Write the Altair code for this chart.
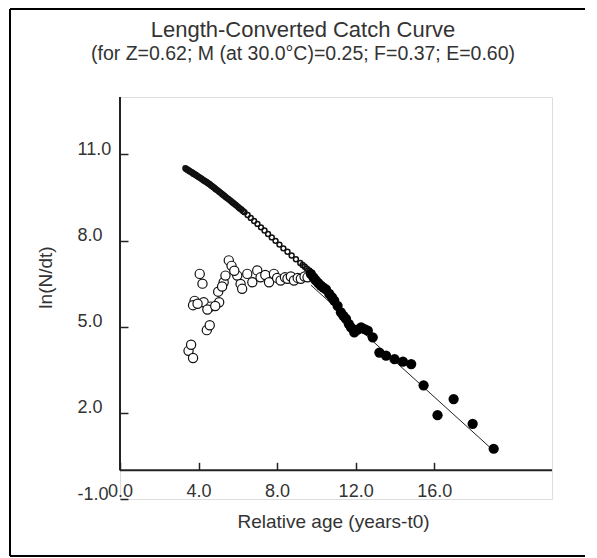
import altair as alt
import pandas as pd

# ---------------- data ----------------
# expected values (small open circles, upper chain)
up_x = [3.33, 3.37, 3.42, 3.46, 3.51, 3.55, 3.60, 3.65, 3.70, 3.75, 3.80, 3.85,
        3.90, 3.95, 4.00, 4.05, 4.11, 4.16, 4.22, 4.27, 4.33, 4.38, 4.44, 4.50,
        4.56, 4.62, 4.68, 4.74, 4.80, 4.86, 4.92, 4.98, 5.05, 5.11, 5.18, 5.24,
        5.31, 5.38, 5.45, 5.52, 5.59, 5.66, 5.73, 5.80, 5.88, 5.95, 6.03, 6.10,
        6.18, 6.26, 6.34, 6.50, 6.66, 6.83, 7.00, 7.18, 7.36, 7.54, 7.73, 7.92,
        8.12, 8.32, 8.53, 8.74, 8.96, 9.18, 9.30, 9.41, 9.52, 9.64]
up_y = [10.52, 10.49, 10.48, 10.45, 10.44, 10.41, 10.40, 10.37, 10.36, 10.32, 10.31, 10.29,
        10.27, 10.24, 10.22, 10.20, 10.17, 10.15, 10.12, 10.09, 10.07, 10.05, 10.02, 9.99,
        9.97, 9.93, 9.90, 9.87, 9.84, 9.80, 9.77, 9.74, 9.70, 9.67, 9.63, 9.60,
        9.56, 9.52, 9.48, 9.45, 9.41, 9.37, 9.33, 9.29, 9.25, 9.21, 9.16, 9.12,
        9.08, 9.03, 8.99, 8.89, 8.79, 8.68, 8.58, 8.46, 8.35, 8.23, 8.11, 7.99,
        7.86, 7.73, 7.61, 7.48, 7.35, 7.22, 7.15, 7.09, 7.02, 6.96]

# observed points not used in the regression (large open circles)
open_x = [3.49, 3.62, 3.72, 4.42, 4.57, 3.80, 3.72, 4.06, 4.20, 4.26, 4.62, 5.05,
          5.00, 5.28, 5.37, 5.54, 5.68, 5.97, 6.14, 6.22, 6.48, 6.74, 6.99, 7.16,
          7.40, 7.59, 7.84, 8.00, 8.18, 8.40, 8.53, 8.70, 8.86, 9.05, 9.21, 9.40, 9.55,
          3.95, 4.45, 4.85, 5.20, 5.82]
open_y = [4.16, 4.37, 3.91, 4.88, 5.05, 5.90, 5.75, 6.84, 6.50, 5.85, 5.70, 5.85,
          6.22, 6.55, 6.78, 7.31, 7.12, 6.78, 6.49, 6.32, 6.84, 6.55, 6.96, 6.72,
          6.80, 6.55, 6.84, 6.70, 6.61, 6.72, 6.67, 6.75, 6.61, 6.70, 6.67, 6.75, 6.72,
          5.80, 5.60, 5.72, 6.40, 6.95]

# points used in the regression (filled circles)
fill_x = [9.72, 9.85, 9.97, 10.10, 10.23, 10.36, 10.49, 10.66, 10.80, 10.91, 11.08,
          11.25, 11.38, 11.51, 11.65, 11.76, 11.93, 12.10, 12.28, 12.45, 12.62, 12.87,
          13.21, 13.55, 13.98, 14.41, 14.83, 15.46, 16.17, 16.99, 17.96, 19.03]
fill_y = [6.84, 6.72, 6.61, 6.52, 6.43, 6.36, 6.30, 6.14, 6.02, 5.91, 5.73,
          5.50, 5.38, 5.27, 5.10, 4.98, 4.80, 4.90, 4.98, 4.92, 4.86, 4.63,
          4.10, 3.99, 3.87, 3.78, 3.70, 2.96, 1.92, 2.48, 1.62, 0.75]

# regression line (slope -Z = -0.62)
line_x = [9.72, 19.03]
line_y = [6.45, 0.68]

x_ticks = [0, 4, 8, 12, 16]
y_ticks = [-1, 2, 5, 8, 11]
X_DOMAIN = [0, 22]
Y_DOMAIN = [-1, 13]

TITLE = "Length-Converted Catch Curve"
SUBTITLE = "(for Z=0.62; M (at 30.0°C)=0.25; F=0.37; E=0.60)"

FONT = "Liberation Sans"
TXT = "#333333"

df_up = pd.DataFrame({"x": up_x, "y": up_y})
df_open = pd.DataFrame({"x": open_x, "y": open_y})
df_fill = pd.DataFrame({"x": fill_x, "y": fill_y})
df_line = pd.DataFrame({"x": line_x, "y": line_y})
df_xaxis = pd.DataFrame({"x": [X_DOMAIN[0]], "x2": [X_DOMAIN[1]], "y": [0]})
df_yaxis = pd.DataFrame({"x": [0], "y": [0], "y2": [Y_DOMAIN[1]]})
df_dummy = pd.DataFrame({"k": [0]})

lab_expr = "datum.value < 0 ? '-' + format(-datum.value, '.1f') : format(datum.value, '.1f')"

xs = alt.Scale(domain=X_DOMAIN, nice=False, zero=False)
ys = alt.Scale(domain=Y_DOMAIN, nice=False, zero=False)

x_axis = alt.Axis(values=x_ticks, labelExpr=lab_expr, domain=False, grid=False,
                  offset=-36.7, tickSize=8, tickWidth=1.5, tickColor="#222222",
                  labelPadding=12, labelFontSize=18, labelFont=FONT, labelColor=TXT,
                  labelFlush=False, labelOverlap=False,
                  title="Relative age (years-t0)", titleFont=FONT, titleFontSize=19,
                  titleFontWeight="normal", titleColor=TXT, titleX=213, titleY=58.7,
                  titleBaseline="middle", titleAlign="center")
y_axis = alt.Axis(values=y_ticks, labelExpr=lab_expr, domain=False, grid=False,
                  offset=-8, tickSize=8, tickWidth=1.5, tickColor="#222222",
                  labelPadding=43, labelAlign="left", labelOffset=-5,
                  labelFontSize=18, labelFont=FONT, labelColor=TXT,
                  labelFlush=False, labelOverlap=False,
                  title="ln(N/dt)", titleFont=FONT, titleFontSize=19,
                  titleFontWeight="normal", titleColor=TXT, titleX=-83, titleY=180,
                  titleBaseline="middle", titleAlign="center", titleAngle=270)

up = alt.Chart(df_up).mark_point(shape="circle", filled=False, size=24,
                                 strokeWidth=1.5, color="#111111", opacity=1).encode(
    x=alt.X("x:Q", scale=xs, axis=x_axis),
    y=alt.Y("y:Q", scale=ys, axis=y_axis),
)

opn = alt.Chart(df_open).mark_circle(size=85, fill="white", stroke="#111111",
                                     strokeWidth=1.2, opacity=1, fillOpacity=1).encode(
    x="x:Q", y="y:Q")

reg = alt.Chart(df_line).mark_line(color="#222222", strokeWidth=1).encode(
    x="x:Q", y="y:Q")

fil = alt.Chart(df_fill).mark_circle(size=105, color="#000000", opacity=1).encode(
    x="x:Q", y="y:Q")

xaxis_line = alt.Chart(df_xaxis).mark_rule(color="#222222", strokeWidth=2).encode(
    x="x:Q", x2="x2:Q", y="y:Q")
yaxis_line = alt.Chart(df_yaxis).mark_rule(color="#222222", strokeWidth=2).encode(
    x="x:Q", y="y:Q", y2="y2:Q")

# chart title and subtitle as text marks (placed above the plot area)
title_main = alt.Chart(df_dummy).mark_text(
    text=TITLE, font=FONT, fontSize=22, color=TXT, align="center", baseline="alphabetic"
).encode(x=alt.value(183), y=alt.value(-60))
title_sub = alt.Chart(df_dummy).mark_text(
    text=SUBTITLE, font=FONT, fontSize=19.5, color=TXT, align="center", baseline="alphabetic"
).encode(x=alt.value(183), y=alt.value(-37))

# outer picture frame (decoration): left, top and bottom sides only
frame_top = alt.Chart(df_dummy).mark_rule(color="black", strokeWidth=2).encode(
    x=alt.value(-110), x2=alt.value(465), y=alt.value(-88))
frame_left = alt.Chart(df_dummy).mark_rule(color="black", strokeWidth=2).encode(
    x=alt.value(-110), y=alt.value(-88), y2=alt.value(459))
frame_bottom = alt.Chart(df_dummy).mark_rule(color="black", strokeWidth=2).encode(
    x=alt.value(-110), x2=alt.value(465), y=alt.value(459))

chart = alt.layer(
    frame_top, frame_left, frame_bottom,
    up, opn, reg, fil, xaxis_line, yaxis_line, title_main, title_sub
).properties(
    width=432,
    height=402,
    autosize=alt.AutoSizeParams(type="none"),
    padding={"left": 112, "top": 89, "right": 37, "bottom": 60},
).configure_view(stroke=None).configure(background="white")

chart.save("out.html", embed_options={"renderer": "svg", "actions": False})
